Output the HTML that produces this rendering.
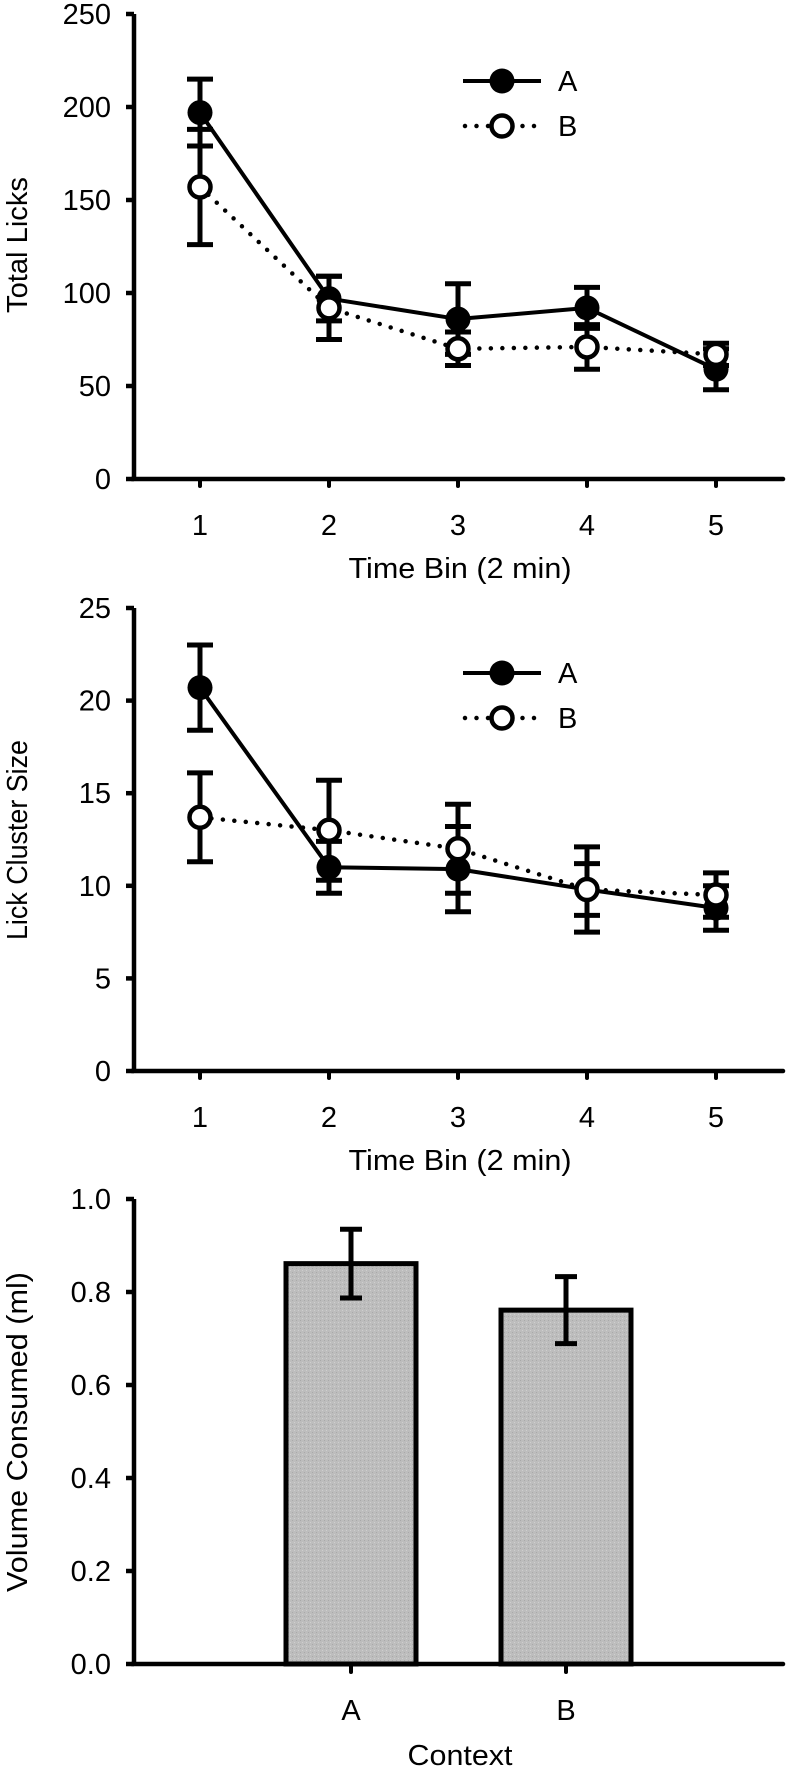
<!DOCTYPE html>
<html><head><meta charset="utf-8"><style>
html,body{margin:0;padding:0;background:#fff;}
svg{display:block;font-family:"Liberation Sans",sans-serif;}
</style></head><body>
<svg id="fig" width="788" height="1768" viewBox="0 0 788 1768">
<defs>
<pattern id="grain" width="4" height="4" patternUnits="userSpaceOnUse">
<rect width="4" height="4" fill="#bdbdbd"/><rect x="0" y="0" width="1" height="1" fill="#a9a9a9"/><rect x="2" y="2" width="1" height="1" fill="#cfcfcf"/>
</pattern>
</defs>
</svg>
<script>
const bins = [1, 2, 3, 4, 5];
const licksA = [197, 97, 86, 92, 59];
const licksAErr = [18, 12, 19, 11, 11];
const licksB = [157, 92, 70, 71, 67];
const licksBErr = [31, 17, 9, 12, 6];
const licksTicks = [0, 50, 100, 150, 200, 250];
const clusterA = [20.7, 11.0, 10.9, 9.8, 8.8];
const clusterAErr = [2.3, 1.4, 2.3, 2.3, 1.2];
const clusterB = [13.7, 13.0, 12.0, 9.8, 9.5];
const clusterBErr = [2.4, 2.7, 2.4, 1.4, 1.2];
const clusterTicks = [0, 5, 10, 15, 20, 25];
const contexts = ['A', 'B'];
const volume = [0.861, 0.761];
const volumeErr = [0.074, 0.072];
const volumeTicks = ['0.0', '0.2', '0.4', '0.6', '0.8', '1.0'];

const NS = 'http://www.w3.org/2000/svg';
const svg = document.getElementById('fig');
function mk(tag, attrs, parent) {
  const e = document.createElementNS(NS, tag);
  for (const k in attrs) e.setAttribute(k, attrs[k]);
  (parent || svg).appendChild(e);
  return e;
}
const AX = 134, XR = 783;

function lineChart(cfg) {
  const g = mk('g', {});
  
  
  const y = v => cfg.y0 - (v - cfg.vmin) / (cfg.vmax - cfg.vmin) * (cfg.y0 - cfg.yTop);
  const x = b => 200 + (b - 1) * 129;
  // axes
  const ya = mk('line', {x1: AX, y1: cfg.yTop, x2: AX, y2: cfg.y0 + 2, stroke: '#000', 'stroke-width': 4.5}, g);
  
  
  const xa = mk('line', {x1: AX - 2, y1: cfg.y0, x2: XR, y2: cfg.y0, stroke: '#000', 'stroke-width': 4.5, 'stroke-linecap': 'round'}, g);
  
  
  cfg.ticks.forEach(t => {
    mk('line', {x1: AX - 8, y1: y(t), x2: AX, y2: y(t), stroke: '#000', 'stroke-width': 4.5}, g);
    const tl = mk('text', {x: 111, y: y(t) + 10, 'text-anchor': 'end', 'font-size': 29}, g);
    tl.textContent = t;
    
    
  });
  bins.forEach(b => {
    mk('line', {x1: x(b), y1: cfg.y0, x2: x(b), y2: cfg.y0 + 7, stroke: '#000', 'stroke-width': 4, 'stroke-linecap': 'round'}, g);
    const tl = mk('text', {x: x(b), y: cfg.y0 + 56, 'text-anchor': 'middle', 'font-size': 29}, g);
    tl.textContent = b;
    
    
  });
  const xt = mk('text', {x: 460, y: cfg.y0 + 99, 'text-anchor': 'middle', 'font-size': 29, textLength: 223, lengthAdjust: 'spacingAndGlyphs'}, g);
  xt.textContent = 'Time Bin (2 min)';
  
  
  const yt = mk('text', {x: 0, y: 0, 'text-anchor': 'middle', 'font-size': 29, transform: `translate(27,${cfg.titleY}) rotate(-90)`, textLength: cfg.titleLen, lengthAdjust: 'spacingAndGlyphs'}, g);
  yt.textContent = cfg.title;
  
  
  // error bars
  function errs(vals, err, name) {
    vals.forEach((v, i) => {
      const b = bins[i];
      const e = mk('path', {d: `M${x(b)} ${y(v - err[i])}V${y(v + err[i])}M${x(b) - 13} ${y(v + err[i])}H${x(b) + 13}M${x(b) - 13} ${y(v - err[i])}H${x(b) + 13}`, stroke: '#000', 'stroke-width': 5, fill: 'none'}, g);
      
      
    });
  }
  errs(cfg.b, cfg.bErr, 'error-bar-b');
  errs(cfg.a, cfg.aErr, 'error-bar-a');
  const pb = mk('polyline', {points: cfg.b.map((v, i) => x(bins[i]) + ',' + y(v)).join(' '), fill: 'none', stroke: '#000', 'stroke-width': 4.5, 'stroke-dasharray': '0 11.5', 'stroke-linecap': 'round'}, g);
  
  
  const pa = mk('polyline', {points: cfg.a.map((v, i) => x(bins[i]) + ',' + y(v)).join(' '), fill: 'none', stroke: '#000', 'stroke-width': 4}, g);
  
  
  cfg.a.forEach((v, i) => {
    const c = mk('circle', {cx: x(bins[i]), cy: y(v), r: 12.5, fill: '#000'}, g);
    
    
  });
  cfg.b.forEach((v, i) => {
    const c = mk('circle', {cx: x(bins[i]), cy: y(v), r: 10.5, fill: '#fff', stroke: '#000', 'stroke-width': 4.5}, g);
    
    
  });
  // legend
  const lg = mk('g', {}, g);
  
  
  const la = cfg.legendY, lb = cfg.legendY + 45;
  mk('line', {x1: 463, y1: la, x2: 541, y2: la, stroke: '#000', 'stroke-width': 4}, lg);
  mk('circle', {cx: 502, cy: la, r: 12.5, fill: '#000'}, lg);
  const ta = mk('text', {x: 558, y: la + 10, 'font-size': 29}, lg);
  ta.textContent = 'A';
  
  
  mk('line', {x1: 465, y1: lb, x2: 540, y2: lb, stroke: '#000', 'stroke-width': 4.5, 'stroke-dasharray': '0 11.5', 'stroke-linecap': 'round'}, lg);
  mk('circle', {cx: 502, cy: lb, r: 10.5, fill: '#fff', stroke: '#000', 'stroke-width': 4.5}, lg);
  const tb = mk('text', {x: 558, y: lb + 10, 'font-size': 29}, lg);
  tb.textContent = 'B';
  
  
}

lineChart({name: 'total-licks-chart', yTop: 14, y0: 479, vmin: 0, vmax: 250, ticks: licksTicks,
  a: licksA, aErr: licksAErr, b: licksB, bErr: licksBErr, title: 'Total Licks', titleY: 245, titleLen: 136, legendY: 81});
lineChart({name: 'lick-cluster-chart', yTop: 608, y0: 1071, vmin: 0, vmax: 25, ticks: clusterTicks,
  a: clusterA, aErr: clusterAErr, b: clusterB, bErr: clusterBErr, title: 'Lick Cluster Size', titleY: 840, titleLen: 200, legendY: 673});

// bar chart
(function () {
  const g = mk('g', {});
  
  
  const y0 = 1664, yTop = 1199;
  const y = v => y0 - v * (y0 - yTop);
  const cx = [351, 566];
  mk('line', {x1: AX, y1: yTop, x2: AX, y2: y0 + 2, stroke: '#000', 'stroke-width': 4.5}, g);
  volumeTicks.forEach(t => {
    mk('line', {x1: AX - 8, y1: y(+t), x2: AX, y2: y(+t), stroke: '#000', 'stroke-width': 4.5}, g);
    const tl = mk('text', {x: 111, y: y(+t) + 10, 'text-anchor': 'end', 'font-size': 29}, g);
    tl.textContent = t;
    
    
  });
  volume.forEach((v, i) => {
    const r = mk('rect', {x: cx[i] - 65, y: y(v), width: 130, height: y0 - y(v), fill: 'url(#grain)', stroke: '#000', 'stroke-width': 5}, g);
    
    
    const e = mk('path', {d: `M${cx[i]} ${y(v - volumeErr[i])}V${y(v + volumeErr[i])}M${cx[i] - 11} ${y(v + volumeErr[i])}H${cx[i] + 11}M${cx[i] - 11} ${y(v - volumeErr[i])}H${cx[i] + 11}`, stroke: '#000', 'stroke-width': 5, fill: 'none'}, g);
    
    
    mk('line', {x1: cx[i], y1: y0, x2: cx[i], y2: y0 + 8, stroke: '#000', 'stroke-width': 4, 'stroke-linecap': 'round'}, g);
    const tl = mk('text', {x: cx[i], y: y0 + 56, 'text-anchor': 'middle', 'font-size': 29}, g);
    tl.textContent = contexts[i];
    
    
  });
  mk('line', {x1: AX - 2, y1: y0, x2: XR, y2: y0, stroke: '#000', 'stroke-width': 4.5, 'stroke-linecap': 'round'}, g);
  const xt = mk('text', {x: 460, y: 1765, 'text-anchor': 'middle', 'font-size': 29, textLength: 105, lengthAdjust: 'spacingAndGlyphs'}, g);
  xt.textContent = 'Context';
  
  
  const yt = mk('text', {x: 0, y: 0, 'text-anchor': 'middle', 'font-size': 29, transform: 'translate(27,1432) rotate(-90)', textLength: 320, lengthAdjust: 'spacingAndGlyphs'}, g);
  yt.textContent = 'Volume Consumed (ml)';
  
  
})();
</script>
</body></html>
